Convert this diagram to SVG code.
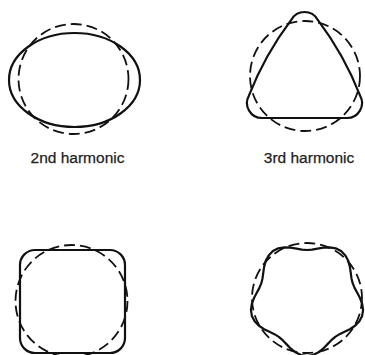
<svg xmlns="http://www.w3.org/2000/svg" width="365" height="355" viewBox="0 0 365 355">
<style>
.solid{fill:none;stroke:#111;stroke-width:2.2;stroke-linejoin:round}
.dash{fill:none;stroke:#111;stroke-width:1.8;stroke-dasharray:11 5}
.lbl{font-family:"Liberation Sans",Arial,sans-serif;font-size:15.5px;fill:#222;stroke:#222;stroke-width:0.25;text-anchor:middle}
</style>
<rect width="365" height="355" fill="#fff"/>
<g id="h2">
<circle class="dash" cx="73.5" cy="79" r="55"/>
<ellipse class="solid" cx="74.5" cy="80" rx="65.5" ry="47"/>
<text class="lbl" x="77.5" y="163">2nd harmonic</text>
</g>
<g id="h3">
<circle class="dash" cx="305" cy="76" r="55"/>
<path class="solid" d="M291.4 19.7 A15 15 0 0 1 317.6 19.7 Q344.1 54.8 360.1 95.7 A15 15 0 0 1 347 118 L262 118 A15 15 0 0 1 248.9 95.7 Q264.9 54.8 291.4 19.7 Z"/>
<text class="lbl" x="309" y="163">3rd harmonic</text>
</g>
<g id="h4">
<circle class="dash" cx="71.5" cy="301" r="56"/>
<rect class="solid" x="20" y="250" width="105" height="103" rx="15" ry="15"/>
</g>
<g id="h5">
<circle class="dash" cx="307" cy="298" r="55"/>
<polygon class="solid" points="307,250 312.09,249.6 317.5,248.61 323.38,247.59 329.57,247.3 335.67,248.35 341.09,251.08 345.36,255.4 348.24,260.86 349.88,266.85 350.73,272.75 351.46,278.21 352.65,283.17 354.6,287.88 357.22,292.72 360,298 362.19,303.8 363.07,309.92 362.16,315.92 359.37,321.32 355.06,325.75 349.88,329.15 344.53,331.79 339.57,334.17 335.21,336.83 331.34,340.15 327.54,344.13 323.38,348.41 318.54,352.28 312.99,355.01 307,356 301.01,355.01 295.46,352.28 290.62,348.41 286.46,344.13 282.66,340.15 278.79,336.83 274.43,334.17 269.47,331.79 264.12,329.15 258.94,325.75 254.63,321.32 251.84,315.92 250.93,309.92 251.81,303.8 254,298 256.78,292.72 259.4,287.88 261.35,283.17 262.54,278.21 263.27,272.75 264.12,266.85 265.76,260.86 268.64,255.4 272.91,251.08 278.33,248.35 284.43,247.3 290.62,247.59 296.5,248.61 301.91,249.6"/>
</g>
</svg>
